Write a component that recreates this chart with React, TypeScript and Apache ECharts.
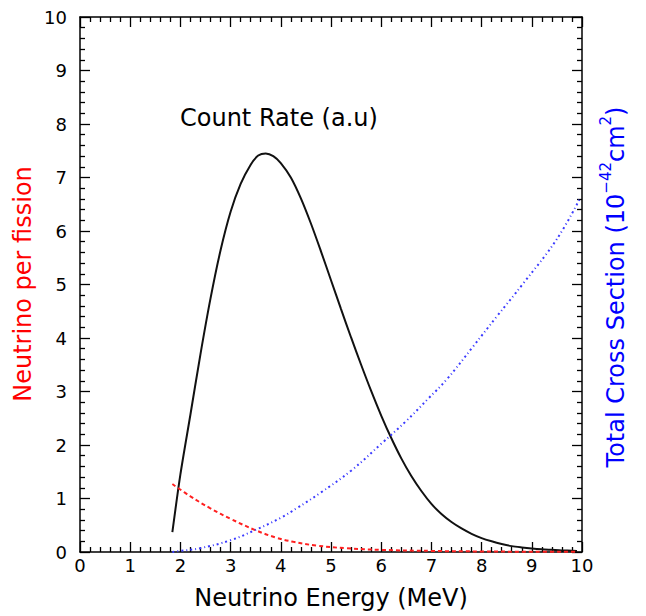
import React, { useEffect, useRef } from "react";
import * as echarts from "echarts";

// Count rate (a.u.) vs neutrino energy (MeV)
const countEnergy = [1.84, 2.0, 2.2, 2.4, 2.6, 2.8, 3.0, 3.2, 3.4, 3.55, 3.7, 3.85, 4.0, 4.2, 4.4, 4.6, 4.8, 5.0, 5.2, 5.4, 5.6, 5.8, 6.0, 6.2, 6.4, 6.6, 6.8, 7.0, 7.2, 7.4, 7.6, 7.8, 8.0, 8.2, 8.4, 8.6, 8.8, 9.0, 9.2, 9.4, 9.6, 9.8, 9.9];
const countRate = [0.37, 1.45, 2.57, 3.7, 4.74, 5.64, 6.36, 6.88, 7.24, 7.41, 7.45, 7.4, 7.27, 7.0, 6.61, 6.14, 5.62, 5.08, 4.54, 4.01, 3.5, 3.01, 2.55, 2.13, 1.75, 1.42, 1.14, 0.9, 0.71, 0.56, 0.44, 0.34, 0.26, 0.2, 0.15, 0.11, 0.085, 0.065, 0.05, 0.04, 0.03, 0.025, 0.02];

// Neutrino per fission
const fissionEnergy = [1.84, 2.2, 2.59, 3.0, 3.49, 3.9, 4.25, 4.71, 5.3, 6.0, 7.0, 8.0, 9.0, 9.9];
const neutrinoPerFission = [1.27, 1.04, 0.82, 0.62, 0.41, 0.27, 0.19, 0.12, 0.07, 0.04, 0.02, 0.01, 0.005, 0.003];

// Total cross section (1e-42 cm^2)
const crossEnergy = [1.84, 2.0, 2.39, 3.0, 3.49, 4.0, 4.32, 4.78, 5.4, 6.01, 6.5, 6.94, 7.3, 7.83, 8.3, 8.83, 9.5, 9.95];
const crossSection = [0, 0.02, 0.07, 0.22, 0.41, 0.64, 0.82, 1.1, 1.52, 2.03, 2.45, 2.87, 3.22, 3.84, 4.4, 5.02, 5.85, 6.59];

const xTicks = { min: 0, max: 10, interval: 1 };
const yTicks = { min: 0, max: 10, interval: 1 };

const FONT = "DejaVu Sans";

function pairs(xs: number[], ys: number[]) {
  return xs.map((x, i) => [x, ys[i]]);
}

function axisBase(showLabel: boolean) {
  return {
    type: "value" as const,
    axisLine: { show: true, onZero: false, lineStyle: { color: "#000", width: 1.5 } },
    axisTick: { show: true, inside: true, length: 10, lineStyle: { color: "#000", width: 1.3 } },
    minorTick: { show: true, splitNumber: 5, length: 5, lineStyle: { color: "#000", width: 1.3 } },
    splitLine: { show: false },
    minorSplitLine: { show: false },
    axisLabel: {
      show: showLabel,
      color: "#000",
      fontSize: 18,
      fontFamily: FONT,
      showMinLabel: true,
      showMaxLabel: true,
    },
  };
}

export default function App() {
  const ref = useRef<HTMLDivElement>(null);
  useEffect(() => {
    if (!ref.current) return;
    const chart = echarts.init(ref.current, undefined, { renderer: "svg" });
    const bx = axisBase(true);
    const ly = axisBase(true);
    chart.setOption({
      animation: false,
      backgroundColor: "#fff",
      grid: { left: 80, right: 64, top: 17, bottom: 64, containLabel: false },
      xAxis: [
        { ...bx, ...xTicks, position: "bottom", axisLabel: { ...bx.axisLabel, margin: 4 } },
        { ...axisBase(false), ...xTicks, position: "top" },
      ],
      yAxis: [
        { ...ly, ...yTicks, position: "left", axisLabel: { ...ly.axisLabel, margin: 13 } },
        { ...axisBase(false), ...yTicks, position: "right" },
      ],
      series: [
        {
          type: "line",
          name: "Count Rate",
          data: pairs(countEnergy, countRate),
          smooth: 0.3,
          symbol: "none",
          lineStyle: { color: "#111", width: 2 },
          xAxisIndex: 0,
          yAxisIndex: 0,
        },
        {
          type: "line",
          name: "Neutrino per fission",
          data: pairs(fissionEnergy, neutrinoPerFission),
          smooth: 0.4,
          symbol: "none",
          lineStyle: { color: "#ff2020", width: 2, type: [4, 3] },
          xAxisIndex: 0,
          yAxisIndex: 0,
        },
        {
          type: "line",
          name: "Total Cross Section",
          data: pairs(crossEnergy, crossSection),
          smooth: 0.4,
          symbol: "none",
          lineStyle: { color: "#3a3aff", width: 2, type: [2, 3, 1, 3] },
          xAxisIndex: 0,
          yAxisIndex: 1,
        },
      ],
      graphic: [
        {
          type: "text",
          left: 180,
          top: 106,
          style: { text: "Count Rate (a.u)", font: `24px ${FONT}`, fill: "#000" },
        },
        {
          type: "text",
          x: 331,
          y: 598,
          style: {
            text: "Neutrino Energy (MeV)",
            font: `24px ${FONT}`,
            fill: "#000",
            align: "center",
            verticalAlign: "middle",
          },
        },
        {
          type: "text",
          x: 23,
          y: 284,
          rotation: Math.PI / 2,
          style: {
            text: "Neutrino per fission",
            font: `24px ${FONT}`,
            fill: "#ff0000",
            align: "center",
            verticalAlign: "middle",
          },
        },
        {
          type: "text",
          x: 613,
          y: 287,
          rotation: Math.PI / 2,
          style: {
            text: "{n|Total Cross Section (10}{sup|−42}{n|cm}{sup|2}{n|)}",
            fill: "#0000ff",
            align: "center",
            verticalAlign: "middle",
            rich: {
              n: { fontSize: 24, fontFamily: FONT, lineHeight: 30, verticalAlign: "bottom", fill: "#0000ff" },
              sup: { fontSize: 15, fontFamily: FONT, lineHeight: 15, verticalAlign: "top", fill: "#0000ff" },
            },
          },
        },
      ],
    });
    return () => chart.dispose();
  }, []);
  return (
    <div
      ref={ref}
      style={{ position: "absolute", left: 0, top: 0, width: 646, height: 616 }}
    />
  );
}
